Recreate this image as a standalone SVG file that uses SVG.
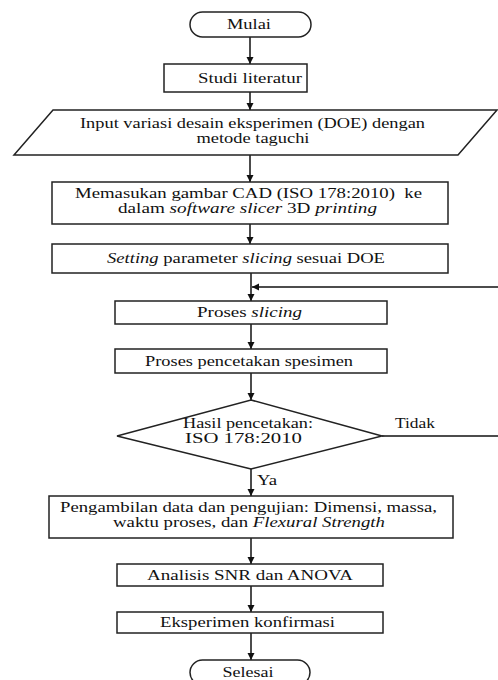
<svg xmlns="http://www.w3.org/2000/svg" width="498" height="680" viewBox="0 0 498 680">
<style>
  .box{fill:#fff;stroke:#222;stroke-width:1.5}
  .ln{fill:none;stroke:#111;stroke-width:1.5}
  .t{font-family:"Liberation Serif","Times New Roman",serif;font-size:14px;fill:#111;text-anchor:middle}
  .l{font-family:"Liberation Serif","Times New Roman",serif;font-size:14px;fill:#111}
  .i{font-style:italic}
</style>
<defs>
  <marker id="ah" markerWidth="8" markerHeight="8" refX="7" refY="4" orient="auto" markerUnits="userSpaceOnUse">
    <path d="M0,0.5 L7,4 L0,7.5 Z" fill="#111"/>
  </marker>
</defs>
<rect width="498" height="680" fill="#fff"/>
<g id="connectors">
  <line class="ln" x1="250" y1="37" x2="250" y2="64" marker-end="url(#ah)"/>
  <line class="ln" x1="250" y1="92" x2="250" y2="110" marker-end="url(#ah)"/>
  <line class="ln" x1="250" y1="155" x2="250" y2="182" marker-end="url(#ah)"/>
  <line class="ln" x1="250" y1="224" x2="250" y2="244" marker-end="url(#ah)"/>
  <line class="ln" x1="251" y1="273" x2="251" y2="301" marker-end="url(#ah)"/>
  <line class="ln" x1="498" y1="287" x2="252" y2="287" marker-end="url(#ah)"/>
  <line class="ln" x1="251" y1="324" x2="251" y2="349" marker-end="url(#ah)"/>
  <line class="ln" x1="251" y1="373" x2="251" y2="400" marker-end="url(#ah)"/>
  <line class="ln" x1="382" y1="436" x2="498" y2="436"/>
  <line class="ln" x1="251" y1="469" x2="251" y2="496" marker-end="url(#ah)"/>
  <line class="ln" x1="251" y1="538" x2="251" y2="564" marker-end="url(#ah)"/>
  <line class="ln" x1="251" y1="586" x2="251" y2="612" marker-end="url(#ah)"/>
  <line class="ln" x1="251" y1="633" x2="251" y2="660" marker-end="url(#ah)"/>
  <text class="l" x="395" y="428" textLength="40" lengthAdjust="spacingAndGlyphs">Tidak</text>
  <text class="l" x="257" y="485" textLength="20" lengthAdjust="spacingAndGlyphs">Ya</text>
</g>
<g id="mulai">
  <rect class="box" x="190" y="12" width="121" height="25" rx="12.5"/>
  <text class="t" x="249" y="29" textLength="44" lengthAdjust="spacingAndGlyphs">Mulai</text>
</g>
<g id="studi">
  <rect class="box" x="164" y="64" width="143" height="28"/>
  <text class="t" x="250" y="83" textLength="104" lengthAdjust="spacingAndGlyphs">Studi literatur</text>
</g>
<g id="input">
  <polygon class="box" points="53,110 497,110 458,155 14,155"/>
  <text class="t" x="252.5" y="128" textLength="345" lengthAdjust="spacingAndGlyphs">Input variasi desain eksperimen (DOE) dengan</text>
  <text class="t" x="253" y="143" textLength="113" lengthAdjust="spacingAndGlyphs">metode taguchi</text>
</g>
<g id="memasukan">
  <rect class="box" x="52" y="182" width="396" height="42"/>
  <text class="t" x="248.5" y="198" textLength="347" lengthAdjust="spacingAndGlyphs" xml:space="preserve">Memasukan gambar CAD (ISO 178:2010)  ke</text>
  <text class="t" x="247.5" y="213" textLength="259" lengthAdjust="spacingAndGlyphs">dalam <tspan class="i">software slicer</tspan> 3D <tspan class="i">printing</tspan></text>
</g>
<g id="setting">
  <rect class="box" x="52" y="244" width="396" height="29"/>
  <text class="t" x="246" y="263" textLength="278" lengthAdjust="spacingAndGlyphs"><tspan class="i">Setting</tspan> parameter <tspan class="i">slicing</tspan> sesuai DOE</text>
</g>
<g id="slicing">
  <rect class="box" x="115" y="301" width="272" height="23"/>
  <text class="t" x="249.5" y="317" textLength="105" lengthAdjust="spacingAndGlyphs">Proses <tspan class="i">slicing</tspan></text>
</g>
<g id="pencetakan">
  <rect class="box" x="115" y="349" width="272" height="24"/>
  <text class="t" x="249" y="366" textLength="208" lengthAdjust="spacingAndGlyphs">Proses pencetakan spesimen</text>
</g>
<g id="hasil">
  <polygon class="box" points="251,400 382,436 251,469 117,436"/>
  <text class="t" x="248" y="428" textLength="130" lengthAdjust="spacingAndGlyphs">Hasil pencetakan:</text>
  <text class="t" x="243.5" y="443" textLength="117" lengthAdjust="spacingAndGlyphs">ISO 178:2010</text>
</g>
<g id="pengambilan">
  <rect class="box" x="49" y="496" width="404" height="42"/>
  <text class="t" x="248.5" y="512" textLength="377" lengthAdjust="spacingAndGlyphs">Pengambilan data dan pengujian: Dimensi, massa,</text>
  <text class="t" x="249" y="527" textLength="272" lengthAdjust="spacingAndGlyphs">waktu proses, dan <tspan class="i">Flexural Strength</tspan></text>
</g>
<g id="analisis">
  <rect class="box" x="117" y="564" width="266" height="22"/>
  <text class="t" x="250" y="580" textLength="206" lengthAdjust="spacingAndGlyphs">Analisis SNR dan ANOVA</text>
</g>
<g id="eksperimen">
  <rect class="box" x="117" y="612" width="266" height="21"/>
  <text class="t" x="247.5" y="627" textLength="175" lengthAdjust="spacingAndGlyphs">Eksperimen konfirmasi</text>
</g>
<g id="selesai">
  <rect class="box" x="190" y="660" width="120" height="25" rx="12.5"/>
  <text class="t" x="248" y="677" textLength="51" lengthAdjust="spacingAndGlyphs">Selesai</text>
</g>
</svg>
